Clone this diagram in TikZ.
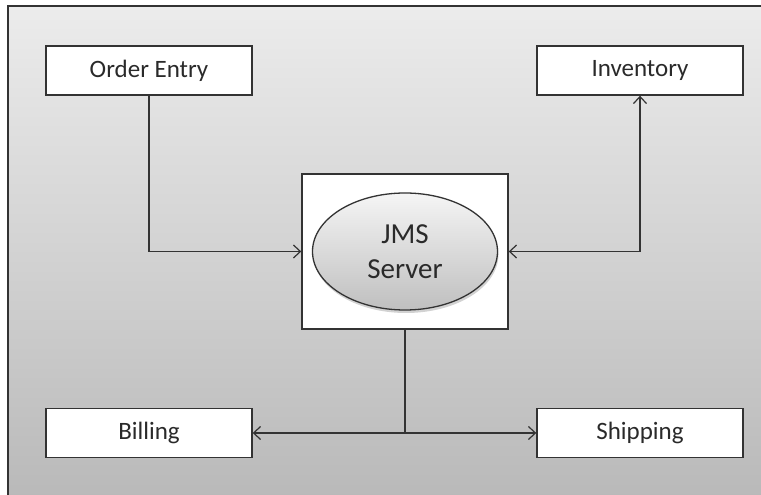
\documentclass[tikz,border=0pt]{standalone}
\usepackage{fontspec}
\setmainfont{Carlito}
\usetikzlibrary{arrows.meta,shapes.geometric,shadows}

\definecolor{edgegray}{HTML}{333333}
\definecolor{textgray}{HTML}{2A2A2A}

\tikzset{
  app/.style={draw=edgegray, line width=1.4pt, fill=white, minimum width=206pt,
    minimum height=49pt, inner sep=0pt, font=\fontsize{25}{30}\selectfont, text=textgray},
  barb/.tip={Straight Barb[length=7pt,width=13pt,line width=1.2pt]},
  link/.style={draw=edgegray, line width=1.2pt, -barb},
  duplex/.style={draw=edgegray, line width=1.2pt, barb-barb}
}

\begin{document}
\begin{tikzpicture}[x=1pt,y=1pt]
\useasboundingbox (0,0) rectangle (761,495);
\shade[top color=gray!15, bottom color=gray!55] (8,489) rectangle (765,-5);
\draw[edgegray, line width=1.5pt] (765,489) -- (8,489) -- (8,-5);

\node[app] (order) at (149,424.5) {Order Entry};
\node[app] (inventory) at (640,424.5) {Inventory};
\node[app] (billing) at (149,62) {Billing};
\node[app] (shipping) at (640,62) {Shipping};

\node[app, minimum height=155pt] (server) at (405,243.5) {};
\node[ellipse, draw=edgegray, line width=1.3pt, minimum width=185pt, minimum height=117pt,
  top color=gray!8, bottom color=gray!50, drop shadow={shadow xshift=1pt, shadow yshift=-3pt, opacity=0.35},
  align=center, font=\fontsize{29}{35}\selectfont, text=textgray] (jms) at (server.center) {JMS\\Server};

\draw[link] (order.south) |- (server.west);
\draw[duplex] (server.east) -| (inventory.south);

\coordinate (split) at (server.south |- billing.east);
\draw[edgegray, line width=2pt] (server.south) -- (split);
\draw[link] (split) -- (billing.east);
\draw[link] (split) -- (shipping.west);
\end{tikzpicture}
\end{document}
